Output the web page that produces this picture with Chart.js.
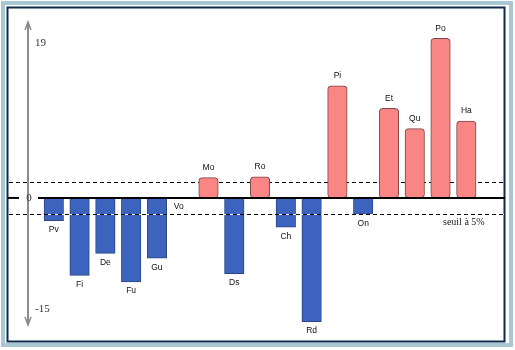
<!DOCTYPE html>
<html>
<head>
<meta charset="utf-8">
<script src="https://cdn.jsdelivr.net/npm/chart.js@4/dist/chart.umd.min.js"></script>
<style>
  body { margin: 0; background: #fff; }
</style>
</head>
<body>
<canvas id="grafico" width="515" height="350"></canvas>
<script>
// valeurs par critère
var noms = ['Pv', 'Fi', 'De', 'Fu', 'Gu', 'Vo', 'Mo', 'Ds', 'Ro', 'Ch', 'Rd', 'Pi', 'On', 'Et', 'Qu', 'Po', 'Ha'];
var valeurs = [-2.8, -9.5, -6.8, -10.3, -7.4, 0, 2.5, -9.3, 2.6, -3.6, -15.2, 13.75, -2.0, 11.0, 8.5, 19.6, 9.45];
var graduations = [19, 0, -15];
var seuil = 2;
var texteSeuil = 'seuil à 5%';

const rose = '#f98585';
const bleu = '#3c63bd';

function ligne(ctx, x1, y1, x2, y2) {
	ctx.beginPath();
	ctx.moveTo(x1, y1);
	ctx.lineTo(x2, y2);
	ctx.stroke();
}

const decor = {
	id: 'decor',
	beforeDraw(chart) {
		const ctx = chart.ctx;
		const y = chart.scales.y;
		ctx.save();
		// cadre
		ctx.strokeStyle = '#a9c7d3';
		ctx.lineWidth = 4;
		ctx.strokeRect(3, 3, 508, 342);
		ctx.strokeStyle = '#0d2b4d';
		ctx.lineWidth = 2;
		ctx.strokeRect(7.5, 7.5, 497, 334);
		// seuil haut, derrière les barres
		ctx.strokeStyle = '#000';
		ctx.lineWidth = 1;
		ctx.setLineDash([4, 3]);
		const yh = Math.round(y.getPixelForValue(seuil)) + 0.5;
		ligne(ctx, 9, yh, 504, yh);
		ctx.restore();
	},
	afterDatasetsDraw(chart) {
		const ctx = chart.ctx;
		const x = chart.scales.x;
		const y = chart.scales.y;
		const y0 = y.getPixelForValue(0);
		const xa = x.getPixelForValue(0);
		ctx.save();

		// seuil bas, par-dessus les barres
		const yb = Math.round(y.getPixelForValue(-seuil)) + 0.5;
		ctx.lineWidth = 1;
		ctx.strokeStyle = '#fff';
		ligne(ctx, 9, yb, 504, yb);
		ctx.strokeStyle = '#000';
		ctx.setLineDash([4, 3]);
		ligne(ctx, 9, yb, 504, yb);
		ctx.setLineDash([]);

		// ligne du zéro
		ctx.lineWidth = 2;
		ligne(ctx, 8, y0, xa - 9, y0);
		ligne(ctx, xa + 10, y0, 505, y0);

		// axe vertical avec flèches
		ctx.strokeStyle = '#8c8c8c';
		ctx.lineWidth = 2;
		const haut = chart.chartArea.top;
		const bas = chart.chartArea.bottom;
		ligne(ctx, xa, haut + 1, xa, bas - 1);
		ctx.lineWidth = 1.5;
		ctx.beginPath();
		ctx.moveTo(xa - 3, haut + 8);
		ctx.lineTo(xa, haut);
		ctx.lineTo(xa + 3, haut + 8);
		ctx.moveTo(xa - 3, bas - 8);
		ctx.lineTo(xa, bas);
		ctx.lineTo(xa + 3, bas - 8);
		ctx.stroke();

		// graduations
		ctx.fillStyle = '#333';
		ctx.font = '11px "Liberation Serif", serif';
		graduations.forEach(function(v) {
			const py = y.getPixelForValue(v);
			if (v === 0) {
				ctx.textAlign = 'center';
				ctx.textBaseline = 'middle';
				ctx.fillText('0', xa + 1, py);
			} else if (v > 0) {
				ctx.textAlign = 'left';
				ctx.textBaseline = 'middle';
				ctx.fillText(String(v), xa + 7, py);
			} else {
				ctx.textAlign = 'left';
				ctx.textBaseline = 'bottom';
				ctx.fillText(String(v), xa + 7, py - 6);
			}
		});

		// texte du seuil
		ctx.font = '10px "Liberation Serif", serif';
		ctx.fillStyle = '#222';
		ctx.textAlign = 'left';
		ctx.textBaseline = 'middle';
		ctx.fillText(texteSeuil, 443, yb + 8);

		// étiquettes des barres
		ctx.font = '8.5px "Liberation Sans", sans-serif';
		ctx.fillStyle = '#111';
		ctx.textAlign = 'center';
		const meta = chart.getDatasetMeta(0);
		meta.data.forEach(function(bar, i) {
			const v = valeurs[i];
			if (v > 0) {
				ctx.fillText(noms[i], bar.x, bar.y - 10);
			} else {
				ctx.fillText(noms[i], bar.x - (v === 0 ? 4 : 0), bar.y + 9);
			}
		});
		ctx.restore();
	}
};

const points = valeurs.map(function(v, i) {
	return { x: i + 1, y: v };
});

new Chart(document.getElementById('grafico'), {
	type: 'bar',
	data: {
		labels: noms,
		datasets: [{
			data: points,
			backgroundColor: ctx => ctx.parsed.y > 0 ? rose : bleu,
			borderColor: ctx => ctx.parsed.y > 0 ? '#7d4545' : '#2a4785',
			borderWidth: 1,
			borderRadius: ctx => ctx.parsed.y > 0 ? 4 : 0,
			borderSkipped: ctx => ctx.parsed.y > 0 ? false : 'start',
			barThickness: 19.5
		}]
	},
	options: {
		responsive: false,
		animation: false,
		layout: {
			padding: { left: 28, right: 10, top: 22, bottom: 25 }
		},
		scales: {
			x: { type: 'linear', min: 0, max: 18.5, offset: false, display: false },
			y: { min: -15.6, max: 21.6, display: false }
		},
		plugins: {
			legend: { display: false },
			tooltip: { enabled: false }
		}
	},
	plugins: [decor]
});
</script>
</body>
</html>
